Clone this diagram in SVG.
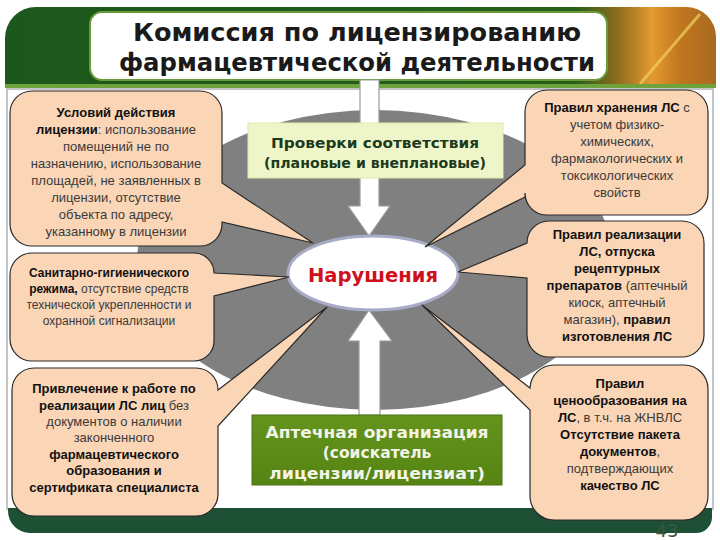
<svg xmlns="http://www.w3.org/2000/svg" width="720" height="540" viewBox="0 0 720 540">
<defs>
<linearGradient id="hdr" x1="0" y1="0" x2="1" y2="0">
<stop offset="0" stop-color="#1c571c"/>
<stop offset="0.8" stop-color="#255f1a"/>
<stop offset="0.86" stop-color="#8a6a1c"/>
<stop offset="0.91" stop-color="#e49a30"/>
<stop offset="0.95" stop-color="#c0761e"/>
<stop offset="1" stop-color="#a86a22"/>
</linearGradient>
<linearGradient id="grn" x1="0" y1="0" x2="0" y2="1">
<stop offset="0" stop-color="#64941c"/>
<stop offset="1" stop-color="#568414"/>
</linearGradient>
<style>
.callout{fill:#fad5b6;stroke:#2a2a2a;stroke-width:1.2}
.ct{font-family:"Liberation Sans",Arial,sans-serif;font-size:13px;text-anchor:middle;fill:#3a3a3a}
.ct2{font-family:"Liberation Sans",Arial,sans-serif;font-size:12px;text-anchor:middle;fill:#3a3a3a}
.b{font-weight:bold;fill:#111}
.arrow{fill:#ffffff;stroke:#9a9a9a;stroke-width:1.2}
.vt{font-family:"DejaVu Sans",Verdana,sans-serif;font-weight:bold;text-anchor:middle}
</style>
</defs>
<rect width="720" height="540" fill="#ffffff"/>
<g id="frame">
<path d="M36,7 H686 A30,30 0 0 1 716,37 V88 H5 V38 A31,31 0 0 1 36,7 Z" fill="url(#hdr)"/>
<path d="M640,84 L700,14" stroke="#f4d060" stroke-width="3" opacity="0.7"/>
<rect x="5" y="84" width="711" height="4" fill="#6da23c"/>
<rect x="7" y="89" width="706" height="420" fill="#ffffff" stroke="#c4c4c4" stroke-width="2"/>
<path d="M8,508 H712 V518 A16,16 0 0 1 696,533 H30 A22,22 0 0 1 8,511 Z" fill="#1d5034"/>
<text x="667" y="537" font-family="DejaVu Sans,sans-serif" font-size="18" fill="#37573f" text-anchor="middle">43</text>
</g>
<ellipse id="disc" cx="375" cy="260" rx="238" ry="150" fill="#808080"/>
<g id="title">
<rect x="90" y="12" width="517" height="68" rx="12" fill="#ffffff" stroke="#6a9a3a" stroke-width="2"/>
<text class="vt" x="357" y="41" font-size="24" fill="#1a1a1a" textLength="448" lengthAdjust="spacingAndGlyphs">Комиссия по лицензированию</text>
<text class="vt" x="357" y="71" font-size="24" fill="#1a1a1a" textLength="476" lengthAdjust="spacingAndGlyphs">фармацевтической деятельности</text>
</g>
<g id="connectors">
<polygon class="arrow" points="360,80 379,80 379,206 390,206 369,236 348,206 360,206"/>
<polygon class="arrow" points="369,310 392,341 380,341 380,415 359,415 359,341 348,341"/>
</g>
<g id="checks">
<rect x="248" y="123" width="255" height="55" fill="#eef6c9" stroke="#dfe8b0" stroke-width="1"/>
<text class="vt" x="375" y="148" font-size="13.5" fill="#1d3a1d" textLength="208" lengthAdjust="spacingAndGlyphs">Проверки соответствия</text>
<text class="vt" x="375" y="168" font-size="13.5" fill="#1d3a1d" textLength="222" lengthAdjust="spacingAndGlyphs">(плановые и внеплановые)</text>
</g>
<g id="violations">
<ellipse cx="373" cy="273" rx="85" ry="37" fill="#ffffff" stroke="#a8acc8" stroke-width="3"/>
<text class="vt" x="373" y="282" font-size="20" fill="#d0101c" textLength="130" lengthAdjust="spacingAndGlyphs">Нарушения</text>
</g>
<g id="pharmacy">
<rect x="252" y="415" width="250" height="70" fill="url(#grn)" stroke="#4a7410" stroke-width="1"/>
<text class="vt" x="377" y="438" font-size="15.5" fill="#f3f3e6" textLength="223" lengthAdjust="spacingAndGlyphs">Аптечная организация</text>
<text class="vt" x="377" y="458" font-size="15.5" fill="#f3f3e6">(соискатель</text>
<text class="vt" x="377" y="479" font-size="15.5" fill="#f3f3e6" textLength="216" lengthAdjust="spacingAndGlyphs">лицензии/лицензиат)</text>
</g>
<g id="c1">
<path class="callout" d="M32,91 H200 A22,22 0 0 1 222,113 V183 L313,243 L222,222 V224 A22,22 0 0 1 200,246 H32 A22,22 0 0 1 10,224 V113 A22,22 0 0 1 32,91 Z"/>
<text class="ct" x="116" y="117"><tspan class="b">Условий действия</tspan></text>
<text class="ct" x="116" y="134"><tspan class="b">лицензии</tspan>: использование</text>
<text class="ct" x="116" y="151">помещений не по</text>
<text class="ct" x="116" y="168">назначению, использование</text>
<text class="ct" x="116" y="185">площадей, не заявленных в</text>
<text class="ct" x="116" y="202">лицензии, отсутствие</text>
<text class="ct" x="116" y="219">объекта по адресу,</text>
<text class="ct" x="116" y="236">указанному в лицензии</text>
</g>
<g id="c2">
<path class="callout" d="M32,253 H194 A20,20 0 0 1 214,273 L289,277 L214,296 V341 A20,20 0 0 1 194,361 H32 A22,22 0 0 1 10,339 V275 A22,22 0 0 1 32,253 Z"/>
<text class="ct2" x="109" y="277"><tspan class="b">Санитарно-гигиенического</tspan></text>
<text class="ct2" x="109" y="293"><tspan class="b">режима,</tspan> отсутствие средств</text>
<text class="ct2" x="109" y="309">технической укрепленности и</text>
<text class="ct2" x="109" y="325">охранной сигнализации</text>
</g>
<g id="c3">
<path class="callout" d="M34,368 H196 A22,22 0 0 1 218,390 L327,307 L218,426 V494 A22,22 0 0 1 196,516 H34 A22,22 0 0 1 12,494 V390 A22,22 0 0 1 34,368 Z"/>
<text class="ct" x="114" y="393"><tspan class="b">Привлечение к работе по</tspan></text>
<text class="ct" x="114" y="410"><tspan class="b">реализации ЛС лиц</tspan> без</text>
<text class="ct" x="114" y="426">документов о наличии</text>
<text class="ct" x="114" y="442">законченного</text>
<text class="ct" x="114" y="459"><tspan class="b">фармацевтического</tspan></text>
<text class="ct" x="114" y="475"><tspan class="b">образования и</tspan></text>
<text class="ct" x="114" y="492"><tspan class="b">сертификата специалиста</tspan></text>
</g>
<g id="c4">
<path class="callout" d="M547,90 H686 A22,22 0 0 1 708,112 V193 A22,22 0 0 1 686,215 H547 A22,22 0 0 1 525,193 V197 L425,247 L525,165 V112 A22,22 0 0 1 547,90 Z"/>
<text class="ct" x="617" y="112"><tspan class="b">Правил хранения ЛС</tspan> с</text>
<text class="ct" x="617" y="129">учетом физико-</text>
<text class="ct" x="617" y="146">химических,</text>
<text class="ct" x="617" y="163">фармакологических и</text>
<text class="ct" x="617" y="180">токсикологических</text>
<text class="ct" x="617" y="197">свойств</text>
</g>
<g id="c5">
<path class="callout" d="M549,221 H682 A22,22 0 0 1 704,243 V335 A22,22 0 0 1 682,357 H549 A22,22 0 0 1 527,335 V278 L458,272 L527,243 A22,22 0 0 1 549,221 Z"/>
<text class="ct" x="617" y="239"><tspan class="b">Правил реализации</tspan></text>
<text class="ct" x="617" y="256"><tspan class="b">ЛС, отпуска</tspan></text>
<text class="ct" x="617" y="273"><tspan class="b">рецептурных</tspan></text>
<text class="ct" x="617" y="290"><tspan class="b">препаратов</tspan> (аптечный</text>
<text class="ct" x="617" y="307">киоск, аптечный</text>
<text class="ct" x="617" y="324">магазин), <tspan class="b">правил</tspan></text>
<text class="ct" x="617" y="341"><tspan class="b">изготовления ЛС</tspan></text>
</g>
<g id="c6">
<path class="callout" d="M554,365 H684 A24,24 0 0 1 708,389 V496 A24,24 0 0 1 684,520 H554 A24,24 0 0 1 530,496 V410 L422,305 L530,388 A24,24 0 0 1 554,365 Z"/>
<text class="ct" x="620" y="388"><tspan class="b">Правил</tspan></text>
<text class="ct" x="620" y="405"><tspan class="b">ценообразования на</tspan></text>
<text class="ct" x="620" y="422"><tspan class="b">ЛС</tspan>, в т.ч. на ЖНВЛС</text>
<text class="ct" x="620" y="439"><tspan class="b">Отсутствие пакета</tspan></text>
<text class="ct" x="620" y="456"><tspan class="b">документов</tspan>,</text>
<text class="ct" x="620" y="473">подтверждающих</text>
<text class="ct" x="620" y="490"><tspan class="b">качество ЛС</tspan></text>
</g>
</svg>
